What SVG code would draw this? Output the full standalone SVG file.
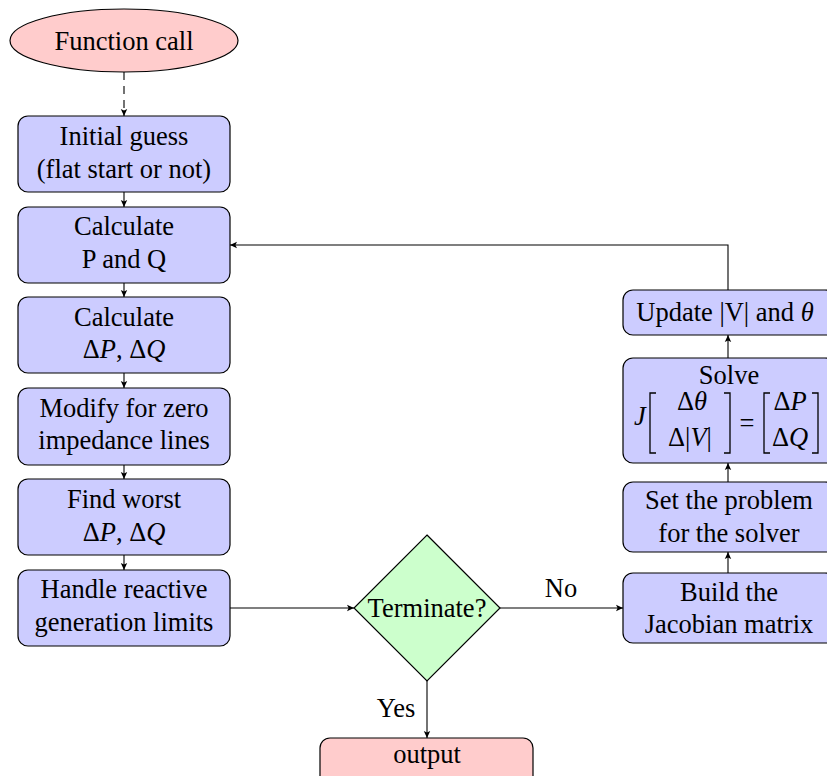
<svg xmlns="http://www.w3.org/2000/svg" width="827" height="776" viewBox="0 0 827 776" font-family="Liberation Serif">
<defs>
<marker id="ah" markerWidth="8" markerHeight="8" refX="7" refY="4" orient="auto" markerUnits="userSpaceOnUse">
<path d="M0,0.8 L7,4 L0,7.2 L1.6,4 Z" fill="#000"/>
</marker>
<style>
text{font-family:"Liberation Serif","Times New Roman",serif;font-size:26.5px;fill:#000;text-anchor:middle}
.m{font-style:italic}
.blue{fill:#ccccff;stroke:#000;stroke-width:1.2}
.red{fill:#ffcccc;stroke:#000;stroke-width:1.2}
.green{fill:#ccffcc;stroke:#000;stroke-width:1.2}
.c{fill:none;stroke:#000;stroke-width:1.1;marker-end:url(#ah)}
.br{fill:none;stroke:#000;stroke-width:1.3}
</style>
</defs>
<rect width="827" height="776" fill="#fff"/>
<g id="connectors">
<path class="c" d="M124,72 V116" stroke-dasharray="8,6"/>
<path class="c" d="M124,192 V207"/>
<path class="c" d="M124,283 V297"/>
<path class="c" d="M124,373 V388"/>
<path class="c" d="M124,465 V479"/>
<path class="c" d="M124,555 V570"/>
<path class="c" d="M230,608 H354"/>
<path class="c" d="M499,608 H623"/>
<path class="c" d="M427,681 V738"/>
<path class="c" d="M728,573 V552"/>
<path class="c" d="M728,482 V463"/>
<path class="c" d="M728,358 V335"/>
<path class="c" d="M728,290 V245 H230"/>
<text x="561" y="597">No</text>
<text x="396" y="717">Yes</text>
</g>
<g id="n-start">
<ellipse class="red" cx="124" cy="40.5" rx="114" ry="31.5"/>
<text x="124" y="50">Function call</text>
</g>
<g id="n-init">
<rect class="blue" x="18" y="116" width="212" height="76" rx="10"/>
<text x="124" y="145">Initial guess</text>
<text x="124" y="178">(flat start or not)</text>
</g>
<g id="n-calcpq">
<rect class="blue" x="18" y="207" width="212" height="76" rx="10"/>
<text x="124" y="235">Calculate</text>
<text x="124" y="268">P and Q</text>
</g>
<g id="n-calcdpq">
<rect class="blue" x="18" y="297" width="212" height="76" rx="10"/>
<text x="124" y="326">Calculate</text>
<text x="124" y="358">Δ<tspan class="m">P</tspan>, Δ<tspan class="m">Q</tspan></text>
</g>
<g id="n-modify">
<rect class="blue" x="18" y="388" width="212" height="77" rx="10"/>
<text x="124" y="417">Modify for zero</text>
<text x="124" y="449">impedance lines</text>
</g>
<g id="n-worst">
<rect class="blue" x="18" y="479" width="212" height="76" rx="10"/>
<text x="124" y="508">Find worst</text>
<text x="124" y="541">Δ<tspan class="m">P</tspan>, Δ<tspan class="m">Q</tspan></text>
</g>
<g id="n-handle">
<rect class="blue" x="18" y="570" width="212" height="76" rx="10"/>
<text x="124" y="598">Handle reactive</text>
<text x="124" y="631">generation limits</text>
</g>
<g id="n-term">
<polygon class="green" points="427,535 500,608 427,681 354,608"/>
<text x="427" y="617">Terminate?</text>
</g>
<g id="n-output">
<rect class="red" x="320" y="738" width="213" height="50" rx="10"/>
<text x="427" y="763">output</text>
</g>
<g id="n-build">
<rect class="blue" x="623" y="573" width="212" height="70" rx="10"/>
<text x="729" y="601">Build the</text>
<text x="729" y="633">Jacobian matrix</text>
</g>
<g id="n-set">
<rect class="blue" x="623" y="482" width="212" height="70" rx="10"/>
<text x="729" y="509">Set the problem</text>
<text x="729" y="542">for the solver</text>
</g>
<g id="n-solve">
<rect class="blue" x="623" y="358" width="212" height="105" rx="10"/>
<text x="729" y="384">Solve</text>
<text x="640" y="425" class="m">J</text>
<path class="br" d="M656,393 H650 V453 H656"/>
<text x="692" y="410">Δ<tspan class="m">θ</tspan></text>
<text x="690" y="446">Δ|<tspan class="m">V</tspan>|</text>
<path class="br" d="M724,393 H730 V453 H724"/>
<text x="747" y="432">=</text>
<path class="br" d="M770,393 H764 V453 H770"/>
<text x="790" y="410">Δ<tspan class="m">P</tspan></text>
<text x="790" y="446">Δ<tspan class="m">Q</tspan></text>
<path class="br" d="M812,393 H818 V453 H812"/>
</g>
<g id="n-update">
<rect class="blue" x="623" y="290" width="212" height="45" rx="10"/>
<text x="725" y="321">Update |V| and <tspan class="m">θ</tspan></text>
</g>
</svg>
